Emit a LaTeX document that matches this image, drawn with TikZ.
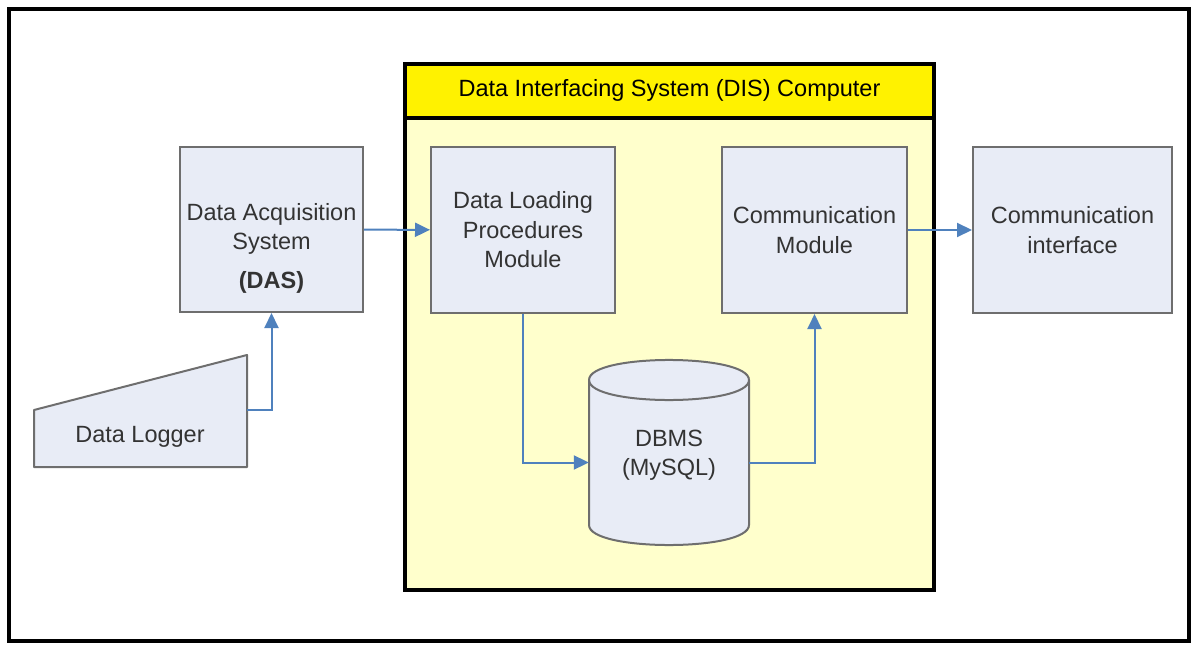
\documentclass[tikz,border=0pt]{standalone}
\usepackage{fontspec}
\setmainfont{Liberation Sans}
\usetikzlibrary{arrows.meta}
\definecolor{boxfill}{HTML}{E8ECF6}
\definecolor{boxline}{HTML}{6E6E6E}
\definecolor{flowblue}{HTML}{4F81BD}
\definecolor{dispale}{HTML}{FFFFCC}
\definecolor{textgray}{HTML}{333333}
\begin{document}
\begin{tikzpicture}[x=1pt,y=-1pt,
        font=\fontsize{23.5}{29.5}\selectfont,
        module/.style={draw=boxline,line width=2pt,fill=boxfill,align=center,text=textgray,inner sep=0pt},
        caption/.style={align=center,text=textgray,inner sep=0pt},
        flow/.style={draw=flowblue,line width=2pt,-{Triangle[length=15pt,width=14pt]}}]
        \useasboundingbox (0,0) rectangle (1198,647);
        % frame
        \draw[line width=4pt] (9,9) rectangle (1189,641);
        % DIS computer
        \draw[line width=4pt,fill=dispale] (405,64) rectangle (934,590);
        \draw[line width=4pt,fill=yellow] (405,64) rectangle (934,118);
        \node[caption,text=black] (dis) at (669.5,90) {Data Interfacing System (DIS) Computer};
        % modules
        \node[module,minimum width=183pt,minimum height=165pt] (das) at (271.5,229.5) {};
        \node[caption] (das-text) at (271.5,248) {Data Acquisition\\System\\[9pt]\textbf{(DAS)}};
        \node[module,minimum width=184pt,minimum height=166pt] (dl) at (523,230) {Data Loading\\Procedures\\Module};
        \node[module,minimum width=185pt,minimum height=166pt] (cm) at (814.5,230) {Communication\\Module};
        \node[module,minimum width=199pt,minimum height=166pt] (ci) at (1072.5,230) {Communication\\interface};
        % data logger
        \draw[draw=boxline,line width=2pt,fill=boxfill,line join=round] (34,410) -- (247,355) -- (247,467) -- (34,467) -- cycle;
        \node[caption] (logger) at (140,437) {Data Logger};
        \coordinate (logger-out) at (247,410);
        % DBMS
        \draw[draw=boxline,line width=2pt,fill=boxfill]
            (589,380) .. controls (589,353.3) and (749,353.3) .. (749,380) -- (749,525)
            .. controls (749,551.7) and (589,551.7) .. (589,525) -- cycle;
        \draw[draw=boxline,line width=2pt] (589,380) .. controls (589,406.7) and (749,406.7) .. (749,380);
        \node[minimum width=160pt,minimum height=165pt,inner sep=0pt] (dbms) at (669,462.5) {};
        \node[caption] (dbms-text) at (669,455) {DBMS\\(MySQL)};
        % flows
        \draw[flow] (logger-out) -| (das);
        \draw[flow] (das) -- (dl);
        \draw[flow] (dl) |- (dbms);
        \draw[flow] (dbms) -| (cm);
        \draw[flow] (cm) -- (ci);
    \end{tikzpicture}
\end{document}
